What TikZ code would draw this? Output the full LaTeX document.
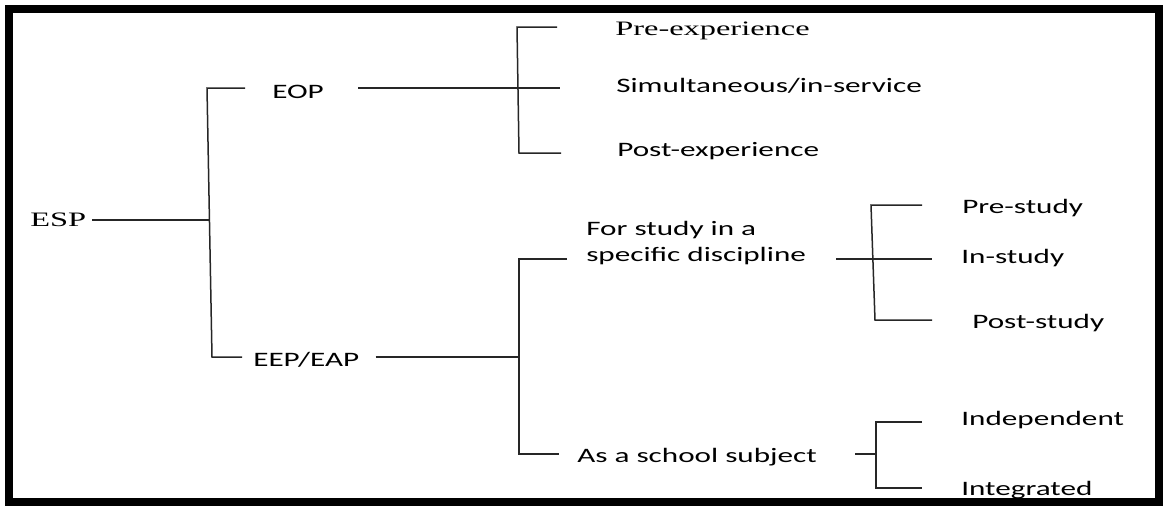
\documentclass[tikz,border=0pt]{standalone}
\usepackage{fontspec}
\setmainfont{Carlito}
\newfontfamily\serifx{Liberation Serif}
\begin{document}
\begin{tikzpicture}[x=1pt,y=-1pt,
  lbl/.style={anchor=base west,inner sep=0pt,xscale=1.52,font=\fontsize{20.5}{26}\selectfont},
  serlbl/.style={lbl,xscale=1.04,font=\serifx\fontsize{20.5}{26}\selectfont},
  br/.style={line width=1.5pt,draw=black!85}]
\useasboundingbox (0,0) rectangle (1163,506);
\draw[line width=8pt] (9,9) rectangle (1159,502);

% labels
\node[serlbl] (esp) at (30,226) {ESP};
\node[lbl] (eop) at (272,98) {EOP};
\node[lbl] (eep) at (253,366) {EEP/EAP};
\node[serlbl] (preexp) at (615,35) {Pre-experience};
\node[lbl] (simul) at (616,92) {Simultaneous/in-service};
\node[lbl] (postexp) at (617,156) {Post-experience};
\node[lbl,align=left] (forst) at (586,261) {For study in a\\specific discipline};
\node[lbl] (school) at (577,462) {As a school subject};
\node[lbl] (prest) at (962,213) {Pre-study};
\node[lbl] (inst) at (961,263) {In-study};
\node[lbl] (postst) at (972,328) {Post-study};
\node[lbl] (indep) at (961,425) {Independent};
\node[lbl] (integ) at (961,495) {Integrated};

% bracket corners
\coordinate (ta) at (207,88);
\coordinate (tb) at (212,357);
\coordinate (tm) at (210,220);
\coordinate (ua) at (517,27);
\coordinate (ub) at (519,153);
\coordinate (um) at (518,88);
\coordinate (va) at (519,259);
\coordinate (vb) at (519,454);
\coordinate (vm) at (519,357);
\coordinate (wa) at (871,205);
\coordinate (wb) at (875,320);
\coordinate (wm) at (873,259);
\coordinate (xa) at (876,422);
\coordinate (xb) at (876,488);
\coordinate (xm) at (876,454);

% ESP
\draw[br,shorten <=6pt] (tm -| esp.east) -- (tm);
\draw[br,shorten <=27pt,shorten >=11pt] (ta -| eop.west) -- (ta) -- (tb) -- (tb -| eep.west);
% EOP
\draw[br,shorten <=34pt,shorten >=56pt] (um -| eop.east) -- (um -| simul.west);
\draw[br,shorten <=58pt,shorten >=56pt] (ua -| preexp.west) -- (ua) -- (ub) -- (ub -| postexp.west);
% EEP/EAP
\draw[br,shorten <=16pt] (vm -| eep.east) -- (vm);
\draw[br,shorten <=19pt,shorten >=18pt] (va -| forst.west) -- (va) -- (vb) -- (vb -| school.west);
% for study
\draw[br,shorten <=30pt,shorten >=29pt] (wm -| forst.east) -- (wm -| inst.west);
\draw[br,shorten <=40pt,shorten >=40pt] (wa -| prest.west) -- (wa) -- (wb) -- (wb -| postst.west);
% school subject
\draw[br,shorten <=38pt] (xm -| school.east) -- (xm);
\draw[br,shorten <=39pt,shorten >=39pt] (xa -| indep.west) -- (xa) -- (xb) -- (xb -| integ.west);
\end{tikzpicture}
\end{document}
